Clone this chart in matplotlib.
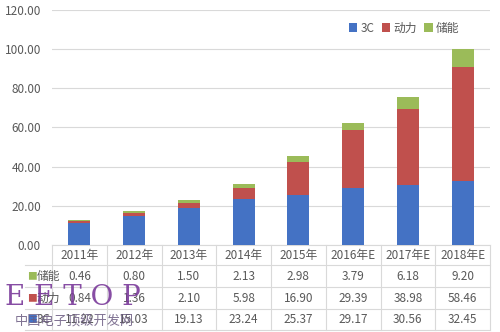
import matplotlib
matplotlib.use("Agg")
import matplotlib.pyplot as plt
import numpy as np

plt.rcParams['font.family'] = ['Noto Sans CJK SC', 'DejaVu Sans']

years = ["2011年", "2012年", "2013年", "2014年", "2015年", "2016年E", "2017年E", "2018年E"]
series_names = ["3C", "动力", "储能"]
v_3c = [11.22, 15.03, 19.13, 23.24, 25.37, 29.17, 30.56, 32.45]
v_power = [0.84, 1.36, 2.10, 5.98, 16.90, 29.39, 38.98, 58.46]
v_storage = [0.46, 0.80, 1.50, 2.13, 2.98, 3.79, 6.18, 9.20]
yticks = [0, 20, 40, 60, 80, 100, 120]

colors = ["#4472C4", "#C0504D", "#9BBB59"]
gray = "#595959"
linec = "#D9D9D9"

fig = plt.figure(figsize=(5.0, 3.32), dpi=100)
ax = fig.add_axes([0.104, 0.262, 0.876, 0.708])
x = np.arange(len(years))
w = 0.4
ax.bar(x, v_3c, w, color=colors[0], label=series_names[0], zorder=3)
ax.bar(x, v_power, w, bottom=v_3c, color=colors[1], label=series_names[1], zorder=3)
bot2 = np.array(v_3c) + np.array(v_power)
ax.bar(x, v_storage, w, bottom=bot2, color=colors[2], label=series_names[2], zorder=3)

ax.set_xlim(-0.5, len(years) - 0.5)
ax.set_ylim(0, 120)
ax.set_yticks(yticks)
ax.set_yticklabels([f"{t:.2f}" for t in yticks], color=gray, fontsize=8.5)
ax.yaxis.grid(True, color=linec, linewidth=0.8, zorder=0)
ax.tick_params(axis='y', length=0, pad=8)
ax.set_xticks([])
for s in ["top", "right", "left"]:
    ax.spines[s].set_visible(False)
ax.spines["bottom"].set_color(linec)

ax.legend(loc="upper right", bbox_to_anchor=(0.955, 0.995), ncol=3, frameon=False,
          fontsize=8.5, handlelength=0.7, handleheight=0.7, handletextpad=0.3,
          columnspacing=0.6, labelcolor=gray)

# data table below the chart
trans = ax.get_xaxis_transform()
row_y = [-0.043, -0.132, -0.226, -0.315]
bounds_y = [0.0, -0.087, -0.179, -0.272, -0.36]
for i, yr in enumerate(years):
    ax.text(i, row_y[0], yr, transform=trans, ha="center", va="center", fontsize=8.5,
            color=gray, clip_on=False)
rows = [("储能", v_storage, colors[2]), ("动力", v_power, colors[1]), ("3C", v_3c, colors[0])]
for r, (name, vals, c) in enumerate(rows):
    yy = row_y[r + 1]
    for i, v in enumerate(vals):
        ax.text(i, yy, f"{v:.2f}", transform=trans, ha="center", va="center", fontsize=8.5,
                color=gray, clip_on=False)
    ax.text(-0.87, yy, "■", transform=trans, ha="center", va="center", fontsize=7,
            color=c, clip_on=False)
    ax.text(-0.78, yy, name, transform=trans, ha="left", va="center", fontsize=8.5,
            color=gray, clip_on=False)
for i in range(len(years) + 1):
    ax.plot([i - 0.5, i - 0.5], [bounds_y[0], bounds_y[-1]], transform=trans, color=linec,
            linewidth=0.8, clip_on=False)
for by in bounds_y[1:]:
    ax.plot([-1.0, len(years) - 0.5], [by, by], transform=trans,
            color=linec, linewidth=0.8, clip_on=False)

# watermark
fig.text(0.01, 0.105, "E E T O P", fontsize=20, color="#7A3A9A", family="DejaVu Serif",
         ha="left", va="center", alpha=0.9)
fig.text(0.03, 0.03, "中国电子顶级开发网", fontsize=9.5, color="#6A5A80", ha="left",
         va="center", alpha=0.85)

fig.savefig("out.png", dpi=100)
